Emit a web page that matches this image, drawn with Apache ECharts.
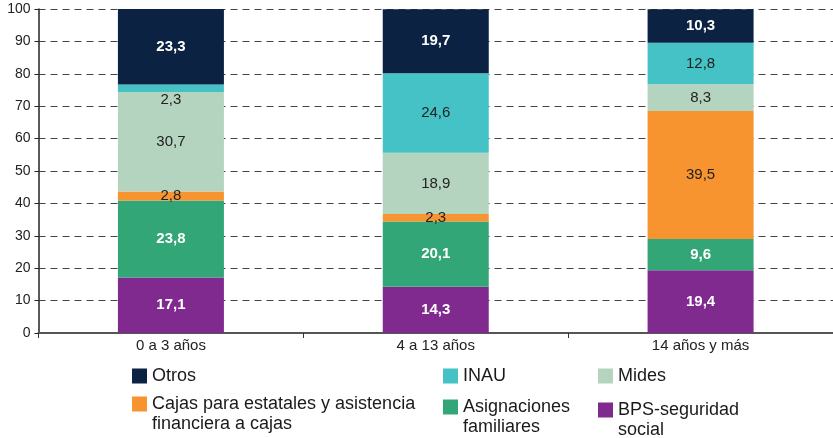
<!DOCTYPE html>
<html><head><meta charset="utf-8">
<script src="https://cdn.jsdelivr.net/npm/echarts@6/dist/echarts.min.js"></script>
<style>html,body{margin:0;padding:0;background:#fff}#c{width:833px;height:438px}</style>
</head><body><div id="c"></div>
<script>
const categories = ['0 a 3 años', '4 a 13 años', '14 años y más'];
const bps = [17.1, 14.3, 19.4];
const asignaciones = [23.8, 20.1, 9.6];
const cajas = [2.8, 2.3, 39.5];
const mides = [30.7, 18.9, 8.3];
const inau = [2.3, 24.6, 12.8];
const otros = [23.3, 19.7, 10.3];
const yTicks = [0, 10, 20, 30, 40, 50, 60, 70, 80, 90, 100];

const FONT = "'Liberation Sans', Arial, sans-serif";
const names = {
  otros: 'Otros', inau: 'INAU', mides: 'Mides',
  cajas: 'Cajas para estatales y asistencia\nfinanciera a cajas',
  asig: 'Asignaciones\nfamiliares', bps: 'BPS-seguridad\nsocial'
};
const colors = {
  otros: '#0b2243', inau: '#45c2c5', mides: '#b5d4c0',
  cajas: '#f7942f', asig: '#32a677', bps: '#80298f'
};
function fmt(p) { return String(p.value).replace('.', ','); }
function mk(key, vals, light, offsets) {
  return {
    name: names[key], type: 'bar', stack: 'a', barWidth: 106,
    itemStyle: { color: colors[key] },
    data: vals.map((v, i) => {
      const d = { value: v };
      if (offsets && offsets[i]) d.label = { offset: offsets[i] };
      return d;
    }),
    label: {
      show: true, position: 'inside', formatter: fmt,
      color: light ? '#ffffff' : '#222222',
      fontWeight: light ? 'bold' : 'normal',
      fontSize: 15, fontFamily: FONT
    }
  };
}
function leg(key, left, top, multi) {
  return {
    data: [names[key]], left: left, top: top, orient: 'horizontal',
    icon: 'rect', itemWidth: 15, itemHeight: 15, itemGap: 0, padding: 0,
    selectedMode: false,
    formatter: n => multi ? ' \n' + n : n,
    textStyle: {
      fontFamily: FONT, fontSize: 18, color: '#1a1a1a', lineHeight: 20
    }
  };
}
const chart = echarts.init(document.getElementById('c'), null, { renderer: 'canvas' });
chart.setOption({
  animation: false,
  backgroundColor: '#fff',
  grid: { left: 38.5, width: 798, top: 9, height: 324, containLabel: false },
  legend: [
    leg('otros', 132, 366, false),
    leg('inau', 443, 366, false),
    leg('mides', 598, 366, false),
    leg('cajas', 132, 374, true),
    leg('asig', 443, 377, true),
    leg('bps', 598, 380, true)
  ],
  xAxis: {
    type: 'category', data: categories,
    axisLine: { lineStyle: { color: '#555', width: 2 } },
    axisTick: { show: true, length: 5, lineStyle: { color: '#333' } },
    axisLabel: { color: '#222', fontSize: 15, fontFamily: FONT, margin: 5 }
  },
  yAxis: {
    type: 'value', min: 0, max: 100, interval: 10,
    axisLine: { show: true, lineStyle: { color: '#222', width: 1.5 } },
    axisTick: { show: true, length: 4, lineStyle: { color: '#222' } },
    axisLabel: { color: '#222', fontSize: 14, fontFamily: FONT, margin: 8,
      formatter: v => yTicks.includes(v) ? String(v) : '' },
    splitLine: { show: true, lineStyle: { color: '#444', type: [7, 5], width: 1 } }
  },
  series: [
    mk('bps', bps, true),
    mk('asig', asignaciones, true),
    mk('cajas', cajas, false),
    mk('mides', mides, false),
    mk('inau', inau, false, [[0, 12], null, null]),
    mk('otros', otros, true)
  ]
});
</script></body></html>
